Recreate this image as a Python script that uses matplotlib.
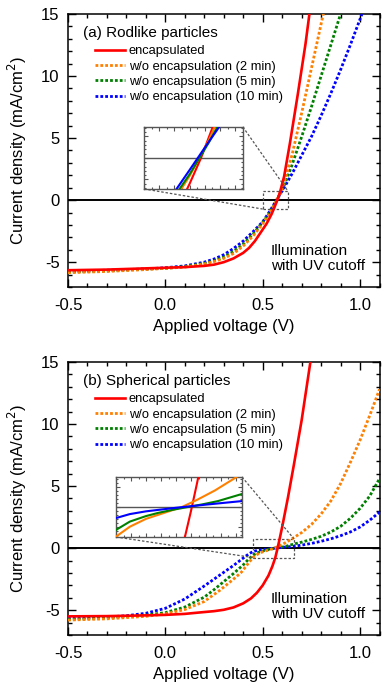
import matplotlib
matplotlib.use("Agg")
import matplotlib.pyplot as plt
from matplotlib.ticker import MultipleLocator
from mpl_toolkits.axes_grid1.inset_locator import mark_inset

plt.rcParams['font.family'] = ['Liberation Sans', 'DejaVu Sans']
plt.rcParams['axes.unicode_minus'] = False

# ---- (a) rodlike particles: J (mA/cm2) vs V (V) ----
V_a_enc = [-0.5, -0.3, -0.1, 0.0, 0.1, 0.2, 0.25, 0.3, 0.35, 0.4, 0.43, 0.46, 0.49,
           0.52, 0.545, 0.56, 0.575, 0.59, 0.61, 0.64, 0.68, 0.72, 0.74]
J_a_enc = [-5.65, -5.6, -5.5, -5.45, -5.4, -5.3, -5.2, -5.0, -4.7, -4.25, -3.85, -3.3, -2.6,
           -1.9, -1.15, -0.6, 0.0, 0.7, 1.9, 4.6, 8.5, 12.6, 15.0]

V_a_2 = [-0.5, -0.3, -0.1, 0.0, 0.1, 0.2, 0.25, 0.3, 0.35, 0.4, 0.45, 0.5, 0.53, 0.56,
         0.585, 0.61, 0.65, 0.7, 0.75, 0.8, 0.82]
J_a_2 = [-5.85, -5.75, -5.6, -5.5, -5.4, -5.15, -4.95, -4.7, -4.3, -3.7, -2.9, -1.9, -1.25, -0.42,
         0.4, 1.4, 3.6, 7.0, 10.6, 14.2, 15.6]

V_a_5 = [-0.5, -0.3, -0.1, 0.0, 0.1, 0.2, 0.25, 0.3, 0.35, 0.4, 0.45, 0.5, 0.53, 0.56,
         0.585, 0.61, 0.65, 0.7, 0.75, 0.8, 0.85, 0.9]
J_a_5 = [-5.8, -5.7, -5.55, -5.5, -5.35, -5.1, -4.9, -4.6, -4.15, -3.55, -2.75, -1.8, -1.15, -0.38,
         0.35, 1.15, 2.8, 5.1, 7.5, 10.0, 12.5, 15.0]

V_a_10 = [-0.5, -0.3, -0.1, 0.0, 0.1, 0.2, 0.25, 0.3, 0.35, 0.4, 0.45, 0.5, 0.53, 0.56,
          0.585, 0.61, 0.65, 0.7, 0.75, 0.8, 0.85, 0.9, 0.95, 1.01]
J_a_10 = [-5.75, -5.65, -5.55, -5.45, -5.3, -5.0, -4.75, -4.4, -3.9, -3.3, -2.55, -1.75, -1.05, -0.28,
          0.37, 1.0, 2.1, 3.6, 5.1, 6.8, 8.6, 10.5, 12.5, 15.0]

# ---- (b) spherical particles ----
V_b_enc = [-0.5, -0.3, -0.1, 0.0, 0.1, 0.18, 0.25, 0.3, 0.35, 0.4, 0.44, 0.47, 0.5, 0.53,
           0.55, 0.565, 0.575, 0.585, 0.6, 0.63, 0.66, 0.7, 0.745]
J_b_enc = [-5.5, -5.48, -5.42, -5.38, -5.3, -5.18, -5.08, -4.97, -4.78, -4.45, -4.05, -3.6, -3.0, -2.2,
           -1.45, -0.75, -0.1, 0.6, 1.7, 4.1, 6.7, 10.3, 15.0]

V_b_2 = [-0.5, -0.3, -0.1, 0.0, 0.1, 0.2, 0.28, 0.35, 0.39, 0.42, 0.45, 0.473, 0.5, 0.52, 0.54,
         0.56, 0.585, 0.615, 0.65, 0.7, 0.75, 0.8, 0.85, 0.9, 0.95, 1.0, 1.05, 1.1]
J_b_2 = [-5.8, -5.7, -5.5, -5.3, -4.95, -4.3, -3.4, -2.5, -1.95, -1.35, -0.75, -0.5, -0.3, -0.2, -0.1,
         0.0, 0.18, 0.42, 0.75, 1.25, 1.9, 2.75, 3.8, 5.2, 6.9, 8.7, 10.7, 12.8]

V_b_5 = [-0.5, -0.3, -0.1, 0.0, 0.1, 0.2, 0.25, 0.3, 0.35, 0.4, 0.43, 0.45, 0.473, 0.5, 0.52,
         0.545, 0.57, 0.595, 0.62, 0.66, 0.7, 0.75, 0.8, 0.85, 0.9, 0.95, 1.0, 1.05, 1.1]
J_b_5 = [-5.75, -5.62, -5.4, -5.2, -4.75, -3.95, -3.35, -2.7, -2.05, -1.35, -0.85, -0.58, -0.37, -0.23,
         -0.15, -0.07, 0.0, 0.07, 0.15, 0.33, 0.48, 0.7, 0.95, 1.3, 1.75, 2.4, 3.2, 4.2, 5.6]

V_b_10 = [-0.5, -0.3, -0.2, -0.1, 0.0, 0.1, 0.2, 0.3, 0.35, 0.4, 0.43, 0.45, 0.473, 0.5, 0.55,
          0.6, 0.66, 0.7, 0.75, 0.8, 0.85, 0.9, 0.95, 1.0, 1.05, 1.1]
J_b_10 = [-5.65, -5.55, -5.45, -5.25, -4.85, -4.1, -3.05, -1.95, -1.4, -0.8, -0.45, -0.28, -0.18, -0.11,
          -0.02, 0.06, 0.15, 0.24, 0.38, 0.55, 0.75, 1.0, 1.3, 1.7, 2.25, 2.9]

LABELS = ["encapsulated", "w/o encapsulation (2 min)",
          "w/o encapsulation (5 min)", "w/o encapsulation (10 min)"]
COLORS = ["#ff0000", "#ff8000", "#008000", "#0000ff"]
TITLES = ["(a) Rodlike particles", "(b) Spherical particles"]

PANELS = [
    dict(curves=[(V_a_enc, J_a_enc), (V_a_2, J_a_2), (V_a_5, J_a_5), (V_a_10, J_a_10)],
         rect=[0.1753, 0.5853, 0.8028, 0.3945],
         inset=[0.371, 0.727, 0.255, 0.0896],
         inx=(0.50, 0.63), iny=(-0.72, 0.72), inxstep=0.01),
    dict(curves=[(V_b_enc, J_b_enc), (V_b_2, J_b_2), (V_b_5, J_b_5), (V_b_10, J_b_10)],
         rect=[0.1753, 0.0824, 0.8028, 0.3945],
         inset=[0.299, 0.224, 0.3247, 0.0867],
         inx=(0.45, 0.66), iny=(-0.76, 0.76), inxstep=0.0125),
]

DOTS = (0, (1, 0.75))

fig = plt.figure(figsize=(3.88, 6.92), dpi=100)

for title, p in zip(TITLES, PANELS):
    ax = fig.add_axes(p["rect"])
    ax.axhline(0, color="k", lw=1.4, zorder=1)
    for i, ((v, j), lab, col) in enumerate(zip(p["curves"], LABELS, COLORS)):
        ls = "-" if i == 0 else DOTS
        ax.plot(v, j, color=col, lw=1.9 if i == 0 else 2.0, ls=ls, label=lab, zorder=3 - i * 0.1)

    ax.set_xlim(-0.5, 1.1)
    ax.set_ylim(-7, 15)
    ax.xaxis.set_major_locator(MultipleLocator(0.5))
    ax.xaxis.set_minor_locator(MultipleLocator(0.1))
    ax.yaxis.set_major_locator(MultipleLocator(5))
    ax.yaxis.set_minor_locator(MultipleLocator(1))
    ax.tick_params(which="both", direction="in", top=True, right=True, width=1, labelsize=12)
    ax.tick_params(which="major", length=5.5, pad=6)
    ax.tick_params(axis="x", which="major", pad=8)
    ax.tick_params(which="minor", length=3.2)
    for s in ax.spines.values():
        s.set_linewidth(1.1)
    ax.set_xlabel("Applied voltage (V)", fontsize=12, labelpad=4)
    ax.set_ylabel("Current density (mA/cm$^2$)", fontsize=12)
    ax.yaxis.set_label_coords(-0.125, 0.5)

    ax.text(0.048, 0.93, title, transform=ax.transAxes, fontsize=11, va="center", ha="left")
    ax.legend(loc="upper left", bbox_to_anchor=(0.087, 0.885), frameon=False,
              fontsize=9.3, handlelength=2.3, handletextpad=0.3, labelspacing=0.25,
              borderpad=0, borderaxespad=0)
    ax.text(0.953, 0.104, "Illumination\nwith UV cutoff", transform=ax.transAxes,
            fontsize=11, ha="right", va="center", multialignment="left", linespacing=1.1)

    # zoomed inset around the open-circuit crossing
    axin = fig.add_axes(p["inset"])
    axin.axhline(0, color="#555555", lw=1.0, zorder=1)
    for (v, j), col in zip(p["curves"], COLORS):
        axin.plot(v, j, color=col, lw=1.5, zorder=3)
    axin.set_xlim(*p["inx"])
    axin.set_ylim(*p["iny"])
    axin.xaxis.set_major_locator(MultipleLocator(p["inxstep"] * 2))
    axin.xaxis.set_minor_locator(MultipleLocator(p["inxstep"]))
    axin.yaxis.set_major_locator(MultipleLocator(0.5))
    axin.yaxis.set_minor_locator(MultipleLocator(0.1))
    axin.tick_params(which="both", direction="in", top=True, right=True,
                     labelbottom=False, labelleft=False, color="#555555", width=0.8)
    axin.tick_params(which="major", length=3)
    axin.tick_params(which="minor", length=1.6)
    for s in axin.spines.values():
        s.set_edgecolor("#555555")
        s.set_linewidth(1.0)
    mark_inset(ax, axin, loc1=1, loc2=3, fc="none", ec="#555555", lw=0.9, ls=(0, (2, 1.5)))

fig.savefig("out.png", dpi=100)
